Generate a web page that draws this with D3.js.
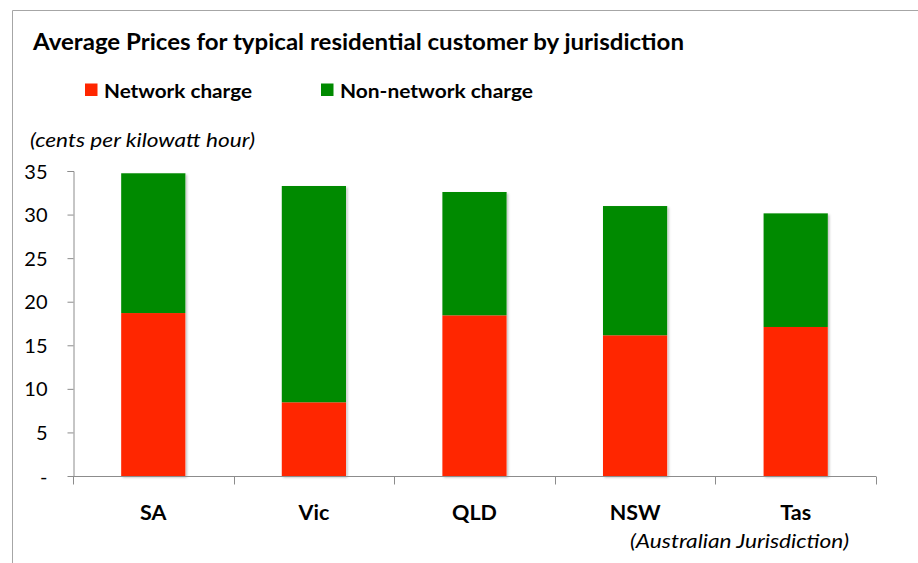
<!DOCTYPE html>
<html>
<head>
<meta charset="utf-8">
<script src="https://cdn.jsdelivr.net/npm/d3@7"></script>
<style>
  html, body { margin: 0; padding: 0; background: #fff; }
  svg { display: block; }
  text { font-family: Lato, "Open Sans", sans-serif; fill: #000; }
</style>
</head>
<body>
<script>
// ---- data ----
const categories = ["SA", "Vic", "QLD", "NSW", "Tas"];
const networkCharge = [18.7, 8.46, 18.44, 16.15, 17.1];
const nonNetworkCharge = [16.04, 24.82, 14.15, 14.83, 13.04];
const seriesNames = ["Network charge", "Non-network charge"];
const seriesColors = ["#ff2600", "#008a00"];
const yTicks = [0, 5, 10, 15, 20, 25, 30, 35];
const yTickLabels = ["-", "5", "10", "15", "20", "25", "30", "35"];

const W = 918, H = 563;
const svg = d3.select("body").append("svg").attr("width", W).attr("height", H);

const defs = svg.append("defs");
const f = defs.append("filter").attr("id", "shadow").attr("x", "-10%").attr("y", "-5%").attr("width", "130%").attr("height", "115%");
f.append("feDropShadow").attr("dx", 1.5).attr("dy", 1.5).attr("stdDeviation", 1.2)
  .attr("flood-color", "#000").attr("flood-opacity", 0.25);

// frame
svg.append("path").attr("d", `M12.5,${H} V10.5 H${W}`)
  .attr("fill", "none").attr("stroke", "#a6a6a6").attr("stroke-width", 1);

function fit(sel, w) { sel.attr("textLength", w).attr("lengthAdjust", "spacingAndGlyphs"); return sel; }

// title
fit(svg.append("text").attr("x", 33).attr("y", 50)
  .attr("font-size", 22).attr("font-weight", "bold")
  .text("Average Prices for typical residential customer by jurisdiction"), 651);

// legend
const legendX = [85, 321];
const legendW = [148, 193];
seriesNames.forEach((n, i) => {
  svg.append("rect").attr("x", legendX[i]).attr("y", 83.5).attr("width", 12.5).attr("height", 12.5)
    .attr("fill", seriesColors[i]);
  fit(svg.append("text").attr("x", legendX[i] + 19).attr("y", 97.5)
    .attr("font-size", 19.5).attr("font-weight", "bold").text(n), legendW[i]);
});

// unit label
fit(svg.append("text").attr("x", 30).attr("y", 146.5)
  .attr("font-size", 19).attr("font-style", "italic").text("(cents per kilowatt hour)"), 225);

// scales
const x = d3.scaleBand().domain(categories).range([73, 876]).paddingInner(0.6).paddingOuter(0.3);
const y = d3.scaleLinear().domain([0, 35]).range([476, 171]);

// stack
const rows = categories.map((c, i) => ({ cat: c, net: networkCharge[i], non: nonNetworkCharge[i] }));
const stack = d3.stack().keys(["net", "non"])(rows);

// shadows first (one per full bar), then the segments
const g = svg.append("g");
g.append("g").selectAll("rect").data(stack[stack.length - 1]).join("rect")
  .attr("x", d => x(d.data.cat))
  .attr("width", x.bandwidth())
  .attr("y", d => y(d[1]))
  .attr("height", d => y(0) - y(d[1]))
  .attr("fill", "#fff")
  .attr("filter", "url(#shadow)");
stack.forEach((layer, li) => {
  g.append("g").selectAll("rect").data(layer).join("rect")
    .attr("x", d => x(d.data.cat))
    .attr("width", x.bandwidth())
    .attr("y", d => y(d[1]))
    .attr("height", d => y(d[0]) - y(d[1]))
    .attr("fill", seriesColors[li]);
});

// y axis
const yAxis = d3.axisLeft(y).tickValues(yTicks).tickSize(6).tickPadding(20)
  .tickFormat((d, i) => yTickLabels[i]);
const ya = svg.append("g").attr("transform", "translate(73.5,0)").call(yAxis);
ya.select(".domain").attr("stroke", "#8c8c8c").attr("d", `M-6,${y(35)}.5H0.5V${y(0)}`);
ya.selectAll(".tick line").attr("stroke", "#8c8c8c");
ya.selectAll(".tick text").attr("font-size", 20).attr("fill", "#000")
  .style("font-family", "Lato, sans-serif").attr("x", -26).attr("dy", "0.35em");

// x axis
const xa = svg.append("g").attr("transform", `translate(0,${y(0) + 0.5})`);
xa.append("line").attr("x1", 73).attr("x2", 876).attr("stroke", "#8c8c8c");
const edges = d3.range(categories.length + 1).map(i => x.range()[0] + i * x.step() / (1 - 0) * 0 + i * (x.range()[1] - x.range()[0]) / categories.length);
xa.selectAll("line.tk").data(edges).join("line").attr("class", "tk")
  .attr("x1", d => Math.round(d) + 0.5).attr("x2", d => Math.round(d) + 0.5)
  .attr("y1", 0).attr("y2", 8).attr("stroke", "#8c8c8c");
xa.selectAll("text").data(categories).join("text")
  .attr("x", d => x(d) + x.bandwidth() / 2).attr("y", 43)
  .attr("text-anchor", "middle").attr("font-size", 21.5).attr("font-weight", "bold")
  .text(d => d);

fit(svg.append("text").attr("x", 630).attr("y", 548)
  .attr("font-size", 19).attr("font-style", "italic").text("(Australian Jurisdiction)"), 219);
</script>
</body>
</html>
